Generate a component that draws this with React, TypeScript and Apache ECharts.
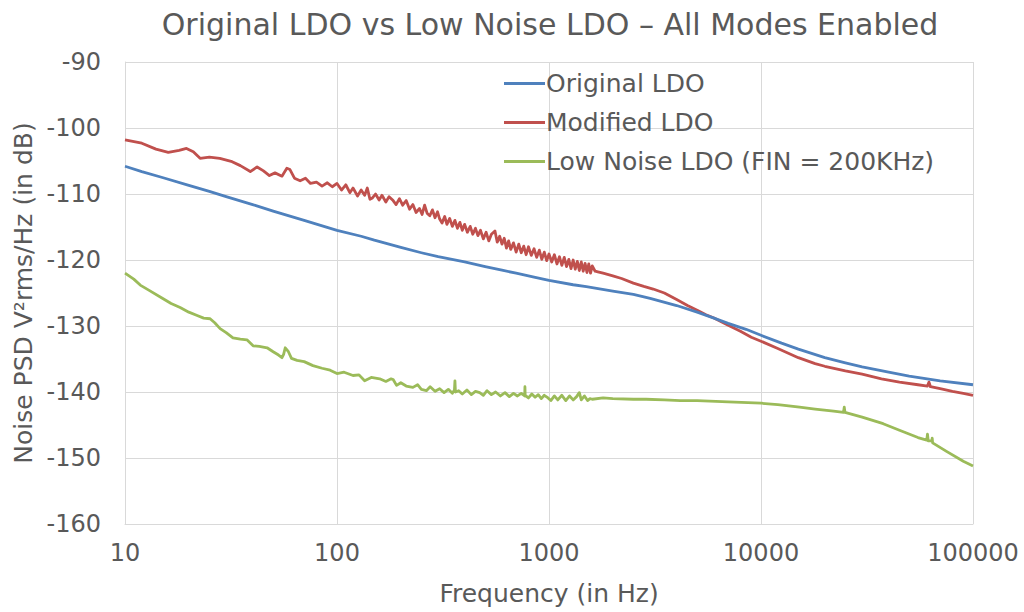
import React, { useEffect, useRef } from "react";
import * as echarts from "echarts";

const titleText = "Original LDO vs Low Noise LDO – All Modes Enabled";
const xAxisName = "Frequency (in Hz)";
const yAxisName = "Noise PSD V²rms/Hz (in dB)";
const seriesNames = ["Original LDO", "Modified LDO", "Low Noise LDO (FIN = 200KHz)"];
const seriesColors = ["#4F81BD", "#C0504D", "#9BBB59"];

// Original LDO
const originalFreq = [10, 12, 15, 20, 25, 30, 40, 50, 70, 100, 130, 150, 200, 250, 300, 400, 500, 600, 700, 850, 1000, 1300, 1500, 2000, 2500, 3000, 4000, 5000, 6000, 7000, 8500, 10000, 12500, 15000, 20000, 25000, 30000, 40000, 50000, 70000, 100000];
const originalDb = [-105.8, -106.6, -107.5, -108.7, -109.6, -110.4, -111.6, -112.6, -114.0, -115.5, -116.4, -117.0, -118.1, -118.9, -119.5, -120.3, -121.0, -121.55, -122.0, -122.6, -123.1, -123.75, -124.05, -124.7, -125.2, -125.8, -126.9, -127.9, -128.8, -129.6, -130.5, -131.4, -132.6, -133.5, -134.8, -135.6, -136.2, -137.0, -137.6, -138.3, -138.9];

// Modified LDO
const modifiedFreq = [
  10, 12, 14, 16, 18, 19.5, 21, 22.6, 25, 28, 32, 35, 39, 42, 45, 48, 51, 55, 58, 60, 63, 67, 71, 75, 80, 85, 90, 95,
  100, 105, 110, 115, 119, 125, 130, 135, 139, 143, 147, 152, 158, 163, 170, 176, 184, 190, 197, 204, 212, 220, 228, 236, 245, 252, 259, 266, 274, 282, 290, 298,
  305, 313, 322, 330, 340, 350, 360, 370, 380, 390, 400, 412, 425, 437, 450, 462, 475, 490, 505, 520, 535, 556, 570, 585, 600, 615, 630, 645, 660, 680,
  700, 720, 740, 760, 780, 800, 825, 850, 875, 900, 925, 950, 975, 1000, 1030, 1060, 1090, 1120, 1150, 1180, 1210, 1240, 1270, 1300, 1330, 1360, 1390, 1420, 1450, 1480, 1510, 1540, 1570, 1600, 1650,
  1700, 1800, 2000, 2200, 2500, 2800, 3100, 3500, 4000, 4500, 5000, 5500, 6000, 7000, 8000, 9000, 10000, 12000, 15000, 18000, 20000, 25000, 30000, 37000, 45000, 55000, 61000, 62000, 63000, 70000, 80000, 90000, 100000,
];
const modifiedDb = [
  -101.8, -102.3, -103.2, -103.7, -103.4, -103.1, -103.6, -104.6, -104.4, -104.6, -105.1, -105.7, -106.6, -105.9, -106.5, -107.2, -106.8, -107.3, -106.1, -106.3, -107.6, -108.0, -107.6, -108.4, -108.2, -108.8, -108.3, -108.9,
  -108.4, -109.4, -108.6, -109.8, -109.1, -110.3, -109.4, -110.2, -109.1, -110.8, -110.6, -110.0, -110.9, -110.2, -111.2, -110.4, -111.0, -111.6, -110.7, -111.7, -111.0, -112.3, -111.6, -112.8, -112.2, -113.1, -111.7, -112.9, -113.3, -112.4, -113.6, -112.7,
  -113.8, -114.4, -113.4, -114.6, -113.7, -114.9, -114.0, -115.2, -114.3, -115.5, -114.6, -115.8, -114.9, -116.1, -115.2, -116.3, -115.5, -116.8, -115.8, -117.1, -116.1, -115.6, -117.3, -116.4, -117.6, -116.7, -118.2, -117.1, -118.4, -117.4,
  -118.8, -117.6, -118.9, -117.9, -119.2, -118.0, -119.3, -118.3, -119.6, -118.5, -119.9, -118.8, -120.1, -119.1, -120.3, -119.2, -120.6, -119.5, -120.8, -119.6, -121.0, -119.9, -121.3, -120.0, -121.4, -120.2, -121.6, -120.3, -121.7, -120.5, -121.9, -120.6, -122.0, -120.9, -121.7,
  -121.8, -122.0, -122.4, -122.8, -123.5, -124.0, -124.4, -125.0, -126.0, -126.9, -127.6, -128.3, -128.8, -129.9, -130.8, -131.7, -132.3, -133.4, -134.8, -135.7, -136.1, -136.8, -137.3, -138.0, -138.5, -138.9, -139.1, -138.5, -139.2, -139.5, -139.9, -140.2, -140.5,
];

// Low Noise LDO (FIN = 200KHz)
const lowNoiseFreq = [
  10, 11, 11.8, 13, 15, 16.5, 18.2, 20, 21.9, 23.5, 25.2, 26.5, 28.1, 30, 32.3, 35, 37.6, 40.2, 43, 46.8, 50, 53, 55, 56, 57, 59, 61, 64.8, 70, 77, 85, 92.8,
  100, 108, 119, 127, 135, 145, 159, 170, 180, 184, 191, 200, 212, 228, 240, 250, 264, 275, 290, 305, 320, 335, 350, 358, 360, 362, 375, 390, 410, 430, 450, 471, 490,
  510, 535, 560, 590, 620, 650, 680, 710, 740, 768, 770, 772, 800, 830, 860, 890, 920, 950, 990, 1020, 1060, 1100, 1150, 1200, 1250, 1300, 1350, 1390, 1420, 1470, 1520, 1560, 1600,
  1800, 2000, 2500, 2870, 3500, 4160, 5000, 7000, 10000, 12000, 15200, 18000, 22000, 24500, 24700, 24900, 30000, 37700, 45000, 55000, 60500, 61000, 61500, 64000, 64200, 64500, 75000, 90000, 100000,
];
const lowNoiseDb = [
  -122.0, -122.9, -123.8, -124.6, -125.8, -126.6, -127.2, -127.9, -128.4, -128.8, -128.9, -129.5, -130.4, -131.0, -131.8, -132.0, -132.1, -133.0, -133.1, -133.3, -133.9, -134.4, -134.8, -134.3, -133.3, -133.9, -134.9, -135.2, -135.4, -136.0, -136.4, -136.7,
  -137.2, -137.0, -137.5, -137.4, -138.3, -137.8, -138.0, -138.4, -138.0, -138.1, -139.0, -138.6, -139.1, -139.3, -138.9, -139.6, -139.8, -139.2, -139.9, -139.5, -140.1, -139.6, -140.2, -139.7, -138.3, -140.0, -139.8, -140.3, -139.7, -140.4, -139.9, -140.1, -140.5,
  -139.8, -140.4, -140.0, -140.6, -140.1, -140.7, -140.2, -140.6, -140.2, -140.6, -139.2, -140.5, -140.9, -140.3, -140.8, -140.4, -141.0, -140.5, -140.9, -141.3, -140.6, -141.2, -140.5, -141.3, -140.6, -141.2, -140.7, -140.1, -141.2, -140.6, -141.3, -141.0, -141.1,
  -140.9, -141.0, -141.1, -141.1, -141.2, -141.3, -141.3, -141.5, -141.7, -141.9, -142.3, -142.6, -142.9, -143.1, -142.3, -143.1, -143.8, -144.8, -145.8, -146.9, -147.3, -146.4, -147.4, -147.4, -147.0, -147.7, -149.0, -150.5, -151.2,
];

const yTicks = [-160, -150, -140, -130, -120, -110, -100, -90];
const xTicks = [10, 100, 1000, 10000, 100000];

const FONT = "DejaVu Sans";
const TEXT_COLOR = "#595959";
const GRID_COLOR = "#D9D9D9";

function pairs(xs: number[], ys: number[]) {
  return xs.map((x, i) => [x, ys[i]]);
}

export default function App() {
  const ref = useRef<HTMLDivElement>(null);
  useEffect(() => {
    if (!ref.current) return;
    const chart = echarts.init(ref.current, null, { renderer: "svg" });
    const dataSets = [
      pairs(originalFreq, originalDb),
      pairs(modifiedFreq, modifiedDb),
      pairs(lowNoiseFreq, lowNoiseDb),
    ];
    chart.setOption({
      animation: false,
      backgroundColor: "#FFFFFF",
      title: {
        text: titleText,
        left: 545,
        textAlign: "center",
        top: 4,
        textStyle: { fontFamily: FONT, fontSize: 30, fontWeight: "normal", color: TEXT_COLOR },
      },
      legend: {
        orient: "vertical",
        left: 499,
        top: 66,
        icon: "rect",
        itemWidth: 41,
        itemHeight: 3,
        itemGap: 14,
        data: seriesNames,
        textStyle: { fontFamily: FONT, fontSize: 25, color: TEXT_COLOR, padding: [0, 0, 0, -4], lineHeight: 25 },
      },
      grid: { left: 125, right: 51, top: 62, bottom: 88, containLabel: false },
      xAxis: {
        type: "log",
        logBase: 10,
        min: xTicks[0],
        max: xTicks[xTicks.length - 1],
        name: xAxisName,
        nameLocation: "middle",
        nameGap: 57,
        nameTextStyle: { fontFamily: FONT, fontSize: 25, color: TEXT_COLOR },
        axisLine: { show: true, lineStyle: { color: GRID_COLOR, width: 1 } },
        axisTick: { show: false },
        axisLabel: {
          fontFamily: FONT,
          fontSize: 24,
          color: TEXT_COLOR,
          margin: 17,
          formatter: (v: number) => String(Math.round(v)),
        },
        splitLine: { show: true, lineStyle: { color: GRID_COLOR, width: 1 } },
        minorSplitLine: { show: false },
      },
      yAxis: {
        type: "value",
        min: yTicks[0],
        max: yTicks[yTicks.length - 1],
        interval: 10,
        name: yAxisName,
        nameLocation: "middle",
        nameGap: 88,
        nameTextStyle: { fontFamily: FONT, fontSize: 25, color: TEXT_COLOR },
        axisLine: { show: true, lineStyle: { color: GRID_COLOR, width: 1 } },
        axisTick: { show: false },
        axisLabel: { fontFamily: FONT, fontSize: 24, color: TEXT_COLOR, margin: 24 },
        splitLine: { show: true, lineStyle: { color: GRID_COLOR, width: 1 } },
      },
      series: seriesNames.map((name, i) => ({
        name,
        type: "line",
        data: dataSets[i],
        symbol: "none",
        showSymbol: false,
        smooth: false,
        color: seriesColors[i],
        itemStyle: { color: seriesColors[i] },
        lineStyle: { color: seriesColors[i], width: 2.8, join: "round" },
        z: i === 0 ? 4 : i === 1 ? 3 : 2,
      })),
    });
    return () => chart.dispose();
  }, []);
  return (
    <div
      ref={ref}
      style={{ position: "fixed", left: 0, top: 0, width: 1024, height: 612, background: "#fff" }}
    />
  );
}
